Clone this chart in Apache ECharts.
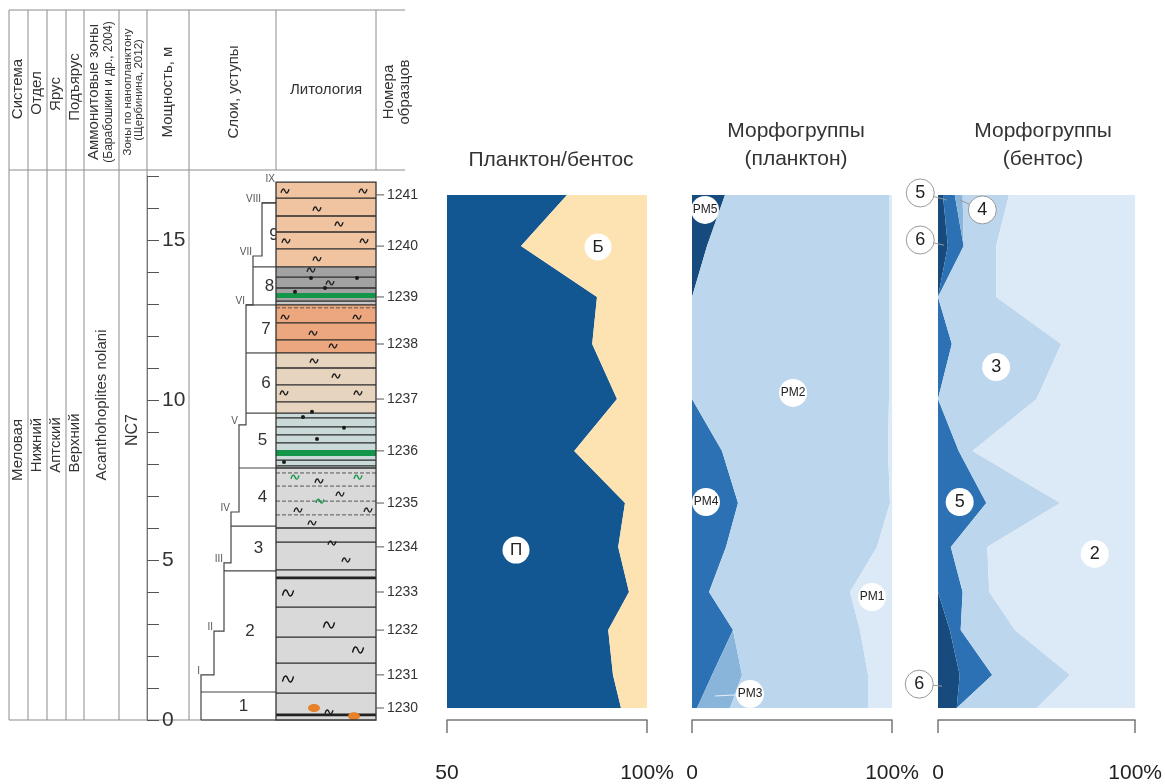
<!DOCTYPE html>
<html>
<head>
<meta charset="utf-8">
<script src="https://cdn.jsdelivr.net/npm/echarts@6/dist/echarts.min.js"></script>
<style>
html, body { margin: 0; padding: 0; background: #fff; }
#chart { width: 1165px; height: 784px; }
</style>
</head>
<body>
<div id="chart"></div>
<script>
// ---- samples (bottom -> top), depth in metres
const sampleNames = ['1230', '1231', '1232', '1233', '1234', '1235', '1236', '1237', '1238', '1239', '1240', '1241'];
const sampleDepth = [0.375, 1.41, 2.81, 4.0, 5.41, 6.78, 8.41, 10.03, 11.75, 13.22, 14.81, 16.41];

// plankton share, %
const planktonShare = [93.5, 91.5, 90.3, 95.5, 92.8, 94.5, 81.8, 92.5, 86.3, 87.5, 68.5, 80];

// plankton morphogroups, %
const pm5 = [0, 0, 0, 0, 0, 0, 0, 0, 0, 0, 7.5, 16.5];
const pm4 = [2.5, 10, 20.5, 8.5, 17, 23, 15, 0, 0, 0, 0, 0];
const pm3 = [16.5, 15, 0, 0, 0, 0, 0, 0, 0, 0, 0, 0];
const pm2 = [69, 63, 63.5, 70.5, 75.5, 76, 83, 98.5, 98.5, 98.5, 91, 82];
const pm1 = [12, 12, 16, 21, 7.5, 1, 2, 1.5, 1.5, 1.5, 1.5, 1.5];

// benthic morphogroups, %
const bn6 = [9.5, 11, 6, 0, 0, 0, 0, 0, 0, 0, 5, 2.5];
const bn5 = [0, 16.5, 5.5, 12.5, 6.5, 24.5, 10.5, 0, 7, 0, 8, 6];
const bn4 = [0, 0, 0, 0, 0, 0, 0, 0, 0, 0, 0, 4];
const bn3 = [40.5, 39.5, 27.5, 13.5, 18.5, 37.5, 7, 50, 55.5, 29.5, 16.5, 23.5];
const bn2 = [50, 33, 61, 74, 75, 38, 82.5, 50, 37.5, 70.5, 70.5, 64];

// circle labels: [text, x %, depth]
const pbLabels = [['Б', 87.75, 14.78], ['П', 67.25, 5.31]];
const pmLabels = [['PM5', 6.5, 15.94], ['PM2', 50.5, 10.22], ['PM4', 7, 6.81], ['PM1', 90, 3.84], ['PM3', 29, 0.81]];
const pmLeaders = [[29, 0.81, 11.5, 0.75]];
const bnLabelsOut = [['5', -9, 16.47], ['4', 22.5, 15.94], ['6', -9, 15.0], ['6', -9.5, 1.12]];
const bnLabelsIn = [['3', 29.5, 11.03], ['5', 11, 6.81], ['2', 79.5, 5.19]];
const bnLeaders = [[-9, 16.47, 4.5, 16.25], [22.5, 15.94, 11, 16.25], [-9, 15.0, 3, 14.84], [-9.5, 1.12, 2, 1.06]];

// ---- section: units (слои) and ledges (уступы)
const unitTops = [0.875, 4.66, 6.06, 7.875, 9.59, 11.47, 12.97, 14.16, 16.16];
const ledgeSteps = [[0, 11], [1.41, 24], [2.78, 34], [4.91, 41], [6.5, 49], [9.22, 56], [12.97, 63], [14.5, 72], [16.16, 86]];
const ledgeNames = ['I', 'II', 'III', 'IV', 'V', 'VI', 'VII', 'VIII', 'IX'];

// ---- lithology
const lithoTop = 16.81;
const lithoBeds = [[0, 7.875, 'clay'], [7.875, 9.59, 'siltClay'], [9.59, 11.47, 'marlLight'], [11.47, 12.97, 'marl'], [12.97, 14.16, 'greyClay'], [14.16, 16.81, 'marlPeach']];
const lightBands = [[12.97, 13.09]];
const glauconiteBands = [[8.25, 8.44], [13.19, 13.34]];
const bedLines = [16.31, 15.75, 15.25, 14.72, 14.16, 13.84, 13.5, 13.09, 12.97, 12.41, 11.88, 11.47, 11.0, 10.47, 9.94, 9.59, 9.44, 9.16, 8.91, 8.66, 8.12, 7.94, 7.875, 6.0, 5.56, 4.69, 3.53, 2.59, 1.78, 0.84];
const dashedLines = [7.72, 7.31, 6.84, 6.41, 12.88];
const thickLines = [4.44, 0.16];
const wavesSmall = [[9, 16.53], [87, 16.53], [41, 15.97], [63, 15.5], [10, 14.97], [88, 14.97], [41, 14.41], [35, 14.06], [54, 13.66], [9, 12.59], [81, 12.59], [37, 12.09], [57, 11.69], [38, 11.22], [60, 10.75], [8, 10.22], [82, 10.22], [43, 7.47], [64, 7.06], [22, 6.56], [92, 6.56], [36, 6.16], [56, 5.53], [70, 5.0], [53, 0.25]];
const wavesLarge = [[12, 3.97], [53, 2.97], [82, 2.19], [12, 1.28]];
const wavesGreen = [[19, 7.59], [82, 7.59], [44, 6.84]];
const dots = [[35, 13.81], [81, 13.81], [49, 13.5], [19, 13.38], [27, 9.47], [36, 9.63], [68, 9.13], [41, 8.78], [8, 8.06]];
const nodules = [[38, 0.375], [78, 0.12]];

const lithoColors = {
  clay: '#d9d9d9', siltClay: '#c9dad9', marlLight: '#e7d4be',
  marl: '#eca77e', greyClay: '#a2a2a2', marlPeach: '#f0c4a1'
};
const FONT = '"Liberation Sans", Arial, sans-serif';
const TOP = 176, H = 544, DMAX = 17;

const chart = echarts.init(document.getElementById('chart'));

function cumulative(groups) {
  let left = sampleDepth.map(() => 0);
  return groups.map(g => {
    const right = left.map((v, i) => v + g[i]);
    const b = { left, right };
    left = right;
    return b;
  });
}

function bandSeries(ax, bounds, color) {
  return {
    type: 'custom', xAxisIndex: ax, yAxisIndex: ax, z: 1, silent: true,
    data: [[0, 0]],
    renderItem: (params, api) => {
      const pts = [];
      for (let i = 0; i < sampleDepth.length; i++) pts.push(api.coord([bounds.right[i], sampleDepth[i]]));
      for (let i = sampleDepth.length - 1; i >= 0; i--) pts.push(api.coord([bounds.left[i], sampleDepth[i]]));
      return { type: 'polygon', shape: { points: pts }, style: { fill: color } };
    }
  };
}

function labelSeries(ax, labels, size, fontSize, border) {
  return {
    type: 'scatter', xAxisIndex: ax, yAxisIndex: ax, z: 4, silent: true, clip: false,
    symbol: 'circle', symbolSize: size,
    itemStyle: { color: '#fff', borderColor: border ? '#9a9a9a' : '#fff', borderWidth: border ? 1 : 0, opacity: 1 },
    label: { show: true, position: 'inside', formatter: '{b}', color: '#222', fontSize: fontSize, fontFamily: FONT },
    data: labels.map(l => ({ name: l[0], value: [l[1], l[2]] }))
  };
}

function leaderSeries(ax, leaders, color) {
  return {
    type: 'custom', xAxisIndex: ax, yAxisIndex: ax, z: 3, silent: true, clip: false,
    data: leaders,
    renderItem: (params, api) => {
      const a = api.coord([api.value(0), api.value(1)]);
      const b = api.coord([api.value(2), api.value(3)]);
      return { type: 'line', shape: { x1: a[0], y1: a[1], x2: b[0], y2: b[1] }, style: { stroke: color, lineWidth: 1 } };
    }
  };
}

// ---- units and ledges column
function ledgeAt(d) {
  let x = ledgeSteps[0][1];
  ledgeSteps.forEach(s => { if (d >= s[0]) x = s[1]; });
  return x;
}
const unitsSeries = {
  type: 'custom', xAxisIndex: 1, yAxisIndex: 1, silent: true, clip: false,
  data: [[0, 0]],
  renderItem: (params, api) => {
    const c = (x, d) => api.coord([x, d]);
    const kids = [];
    const pts = [c(ledgeSteps[0][1], 0)];
    for (let i = 0; i < ledgeSteps.length - 1; i++) {
      pts.push(c(ledgeSteps[i][1], ledgeSteps[i + 1][0]));
      pts.push(c(ledgeSteps[i + 1][1], ledgeSteps[i + 1][0]));
    }
    kids.push({ type: 'polyline', shape: { points: pts }, style: { stroke: '#444', lineWidth: 1.2, fill: null } });
    let bottom = 0;
    unitTops.forEach((t, i) => {
      const a = c(ledgeAt(t - 0.001), t), b = c(86, t);
      kids.push({ type: 'line', shape: { x1: a[0], y1: a[1], x2: b[0], y2: b[1] }, style: { stroke: '#444', lineWidth: 1.2 } });
      const mid = (bottom + t) / 2;
      const p = c((ledgeAt(mid) + 86) / 2 + 5, mid);
      kids.push({ type: 'text', x: p[0], y: p[1], style: { text: String(i + 1), fontSize: 17, fontFamily: FONT, fill: '#333', align: 'center', verticalAlign: 'middle' } });
      bottom = t;
    });
    const b0 = c(ledgeSteps[0][1], 0), b1 = c(86, 0);
    kids.push({ type: 'line', shape: { x1: b0[0], y1: b0[1], x2: b1[0], y2: b1[1] }, style: { stroke: '#444', lineWidth: 1.2 } });
    for (let i = 1; i < ledgeSteps.length; i++) {
      const p = c(ledgeSteps[i - 1][1] - 1, ledgeSteps[i][0]);
      kids.push({ type: 'text', x: p[0], y: p[1] - 4, style: { text: ledgeNames[i - 1], fontSize: 10, fontFamily: FONT, fill: '#555', align: 'right', verticalAlign: 'middle' } });
    }
    const px = c(85, lithoTop);
    kids.push({ type: 'text', x: px[0], y: px[1] - 3, style: { text: ledgeNames[8], fontSize: 10, fontFamily: FONT, fill: '#555', align: 'right', verticalAlign: 'middle' } });
    return { type: 'group', children: kids };
  }
};

// ---- lithology column
function wavePath(p, w, h, color) {
  return {
    type: 'path',
    shape: { pathData: 'M0 4 C1.5 0 3.5 0 5 2.5 C6.5 5 8.5 5 10 1', x: p[0] - w / 2, y: p[1] - h / 2, width: w, height: h, layout: 'cover' },
    style: { stroke: color, lineWidth: 1.4, fill: null }
  };
}
const lithoSeries = {
  type: 'custom', xAxisIndex: 2, yAxisIndex: 2, silent: true, clip: false,
  data: [[0, 0]],
  renderItem: (params, api) => {
    const c = (x, d) => api.coord([x, d]);
    const kids = [];
    const rect = (b, t, fill) => {
      const p1 = c(0, t), p2 = c(100, b);
      kids.push({ type: 'rect', shape: { x: p1[0], y: p1[1], width: p2[0] - p1[0], height: p2[1] - p1[1] }, style: { fill: fill } });
    };
    const hline = (d, style) => {
      const a = c(0, d), b = c(100, d);
      kids.push({ type: 'line', shape: { x1: a[0], y1: a[1], x2: b[0], y2: b[1] }, style: style });
    };
    lithoBeds.forEach(([b, t, k]) => rect(b, t, lithoColors[k]));
    lightBands.forEach(([b, t]) => rect(b, t, '#c6c6c6'));
    glauconiteBands.forEach(([b, t]) => rect(b, t, '#13954a'));
    bedLines.forEach(d => hline(d, { stroke: '#2b2b2b', lineWidth: 1.3 }));
    dashedLines.forEach(d => hline(d, { stroke: '#555', lineWidth: 1, lineDash: [4, 2] }));
    thickLines.forEach(d => hline(d, { stroke: '#222', lineWidth: 2.6 }));
    wavesSmall.forEach(([x, d]) => kids.push(wavePath(c(x, d), 8, 4, '#222')));
    wavesLarge.forEach(([x, d]) => kids.push(wavePath(c(x, d), 11, 6, '#111')));
    wavesGreen.forEach(([x, d]) => kids.push(wavePath(c(x, d), 8, 4, '#17964b')));
    dots.forEach(([x, d]) => { const p = c(x, d); kids.push({ type: 'circle', shape: { cx: p[0], cy: p[1], r: 2 }, style: { fill: '#1a1a1a' } }); });
    nodules.forEach(([x, d]) => { const p = c(x, d); kids.push({ type: 'ellipse', shape: { cx: p[0], cy: p[1], rx: 6, ry: 4 }, style: { fill: '#e8822a' } }); });
    const f1 = c(0, lithoTop), f2 = c(100, 0);
    kids.push({ type: 'rect', shape: { x: f1[0], y: f1[1], width: f2[0] - f1[0], height: f2[1] - f1[1] }, style: { fill: null, stroke: '#333', lineWidth: 1.3 } });
    sampleDepth.forEach((d, i) => {
      const a = c(100, d), b = c(108, d), t = c(111, d);
      kids.push({ type: 'line', shape: { x1: a[0], y1: a[1], x2: b[0], y2: b[1] }, style: { stroke: '#555', lineWidth: 1 } });
      kids.push({ type: 'text', x: t[0], y: t[1], style: { text: sampleNames[i], fontSize: 14, fontFamily: FONT, fill: '#333', align: 'left', verticalAlign: 'middle' } });
    });
    return { type: 'group', children: kids };
  }
};

// ---- table frame and header texts
const lineColor = '#8c8c8c';
const graphic = [];
const gl = (x1, y1, x2, y2) => graphic.push({ type: 'line', shape: { x1, y1, x2, y2 }, style: { stroke: lineColor, lineWidth: 1 }, z: 0 });
gl(9, 10, 405, 10);
gl(9, 170, 405, 170);
gl(9, 720, 376, 720);
[9, 28, 47, 66, 84, 119, 147, 189].forEach(x => gl(x, 10, x, 720));
[276, 376].forEach(x => gl(x, 10, x, 170));
const vt = (x, y, text, size) => graphic.push({
  type: 'text', x, y, rotation: Math.PI / 2, z: 5,
  style: { text, fontSize: size, fontFamily: FONT, fill: '#333', align: 'center', verticalAlign: 'middle' }
});
vt(18, 89, 'Система', 15);
vt(37, 93, 'Отдел', 15);
vt(56, 94, 'Ярус', 15);
vt(75, 87, 'Подъярус', 15);
vt(94, 92, 'Аммонитовые зоны', 15);
vt(109, 92, '(Барабошкин и др., 2004)', 12);
vt(128, 92, 'Зоны по нанопланктону', 11.5);
vt(139, 90, '(Щербинина, 2012)', 11.5);
vt(168, 92, 'Мощность, м', 15);
vt(234, 92, 'Слои, уступы', 15);
vt(389, 92, 'Номера', 15);
vt(405, 92, 'образцов', 15);
graphic.push({ type: 'text', x: 326, y: 90, z: 5, style: { text: 'Литология', fontSize: 15, fontFamily: FONT, fill: '#333', align: 'center', verticalAlign: 'middle' } });
vt(18, 450, 'Меловая', 15);
vt(37, 445, 'Нижний', 15);
vt(56, 445, 'Аптский', 15);
vt(75, 443, 'Верхний', 15);
vt(102, 405, 'Acanthohoplites nolani', 15);
vt(133, 430, 'NC7', 16);

// ---- axes
const hiddenY = i => ({ type: 'value', gridIndex: i, min: 0, max: DMAX, show: false });
const hiddenX = (i, max) => ({ type: 'value', gridIndex: i, min: 0, max: max, show: false });
const pctAxis = (i, min) => ({
  type: 'value', gridIndex: i, min: min, max: 100, interval: 100 - min, position: 'bottom', offset: 15,
  axisLine: { show: true, lineStyle: { color: '#777', width: 1.5 } },
  axisTick: { show: true, inside: false, length: 13, lineStyle: { color: '#777', width: 1.5 } },
  axisLabel: { show: true, margin: 28, fontSize: 21, fontFamily: FONT, color: '#222', showMinLabel: true, showMaxLabel: true, formatter: v => v === 100 ? '100%' : String(v) },
  splitLine: { show: false }
});

const bp = cumulative([planktonShare.map(v => v - 50), planktonShare.map(v => 100 - v)]);
bp.forEach(b => { b.left = b.left.map(v => v + 50); b.right = b.right.map(v => v + 50); });
const bpm = cumulative([pm5, pm4, pm3, pm2, pm1]);
const bbn = cumulative([bn6, bn5, bn4, bn3, bn2]);
const pmColors = ['#174b7d', '#2b71b3', '#8ab5db', '#bcd6ed', '#dce9f6'];

const option = {
  backgroundColor: '#fff',
  animation: false,
  textStyle: { fontFamily: FONT },
  title: [
    { text: 'Планктон/бентос', left: 546, top: 145, textAlign: 'center', textStyle: { fontSize: 21, fontWeight: 'normal', color: '#333', fontFamily: FONT } },
    { text: 'Морфогруппы\n(планктон)', left: 791, top: 112, textAlign: 'center', textStyle: { fontSize: 21, fontWeight: 'normal', color: '#333', lineHeight: 28, fontFamily: FONT } },
    { text: 'Морфогруппы\n(бентос)', left: 1038, top: 112, textAlign: 'center', textStyle: { fontSize: 21, fontWeight: 'normal', color: '#333', lineHeight: 28, fontFamily: FONT } }
  ],
  grid: [
    { left: 147, top: TOP, width: 42, height: H },
    { left: 190, top: TOP, width: 86, height: H },
    { left: 276, top: TOP, width: 100, height: H },
    { left: 447, top: TOP, width: 200, height: H },
    { left: 692, top: TOP, width: 200, height: H },
    { left: 938, top: TOP, width: 200, height: H }
  ],
  xAxis: [hiddenX(0, 1), hiddenX(1, 86), hiddenX(2, 100), pctAxis(3, 50), pctAxis(4, 0), pctAxis(5, 0)],
  yAxis: [
    {
      type: 'value', gridIndex: 0, min: 0, max: DMAX, interval: 1, position: 'left',
      axisLine: { show: true, lineStyle: { color: '#777' } },
      axisTick: { show: true, inside: true, length: 12, lineStyle: { color: '#555' } },
      axisLabel: { show: true, inside: true, margin: 15, fontSize: 21, fontFamily: FONT, color: '#333', formatter: v => v % 5 === 0 ? String(v) : '' },
      splitLine: { show: false }
    },
    hiddenY(1), hiddenY(2), hiddenY(3), hiddenY(4), hiddenY(5)
  ],
  graphic: graphic,
  series: [
    unitsSeries,
    lithoSeries,
    bandSeries(3, bp[0], '#125792'),
    bandSeries(3, bp[1], '#fde3b1'),
    labelSeries(3, pbLabels, 27, 17, false),
    ...bpm.map((b, i) => bandSeries(4, b, pmColors[i])),
    leaderSeries(4, pmLeaders, '#e8f0f8'),
    labelSeries(4, pmLabels, 28, 12, false),
    ...bbn.map((b, i) => bandSeries(5, b, pmColors[i])),
    leaderSeries(5, bnLeaders, '#9a9a9a'),
    labelSeries(5, bnLabelsOut, 28, 18, true),
    labelSeries(5, bnLabelsIn, 28, 18, false)
  ]
};
chart.setOption(option);
</script>
</body>
</html>
